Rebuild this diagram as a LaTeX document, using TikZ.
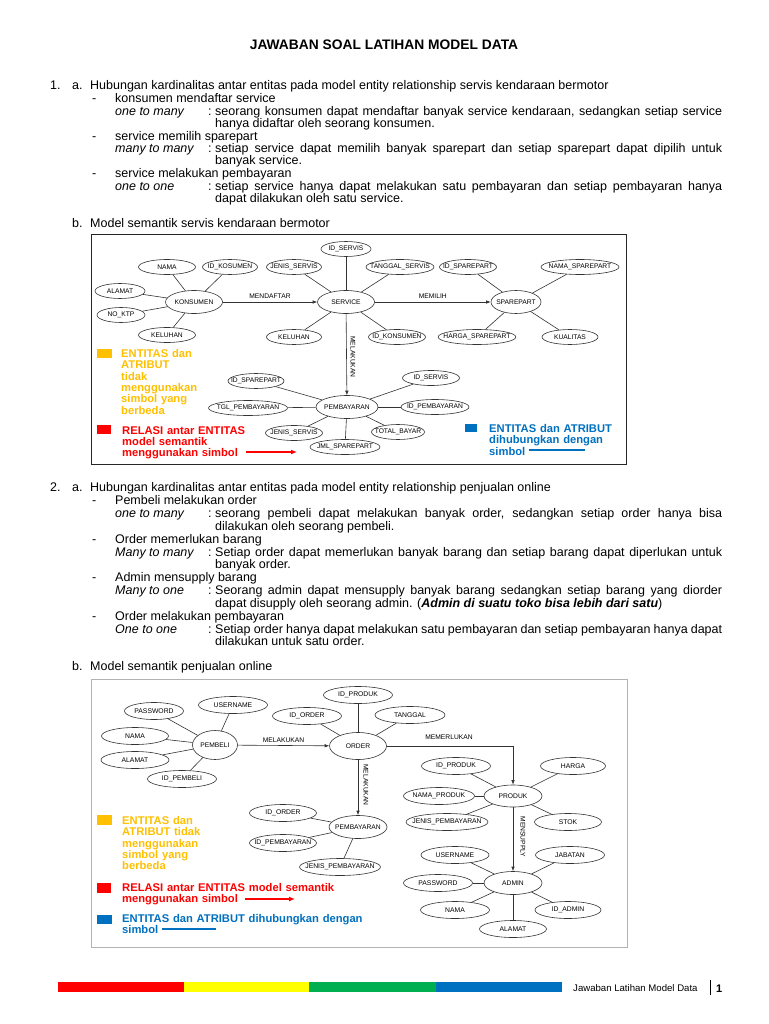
\documentclass[tikz,border=0pt]{standalone}
\usepackage{fontspec}
\setmainfont{Liberation Sans}
\usetikzlibrary{shapes.geometric,arrows.meta}

\definecolor{jingga}{HTML}{FFC000}
\definecolor{merah}{HTML}{FF0000}
\definecolor{biru}{HTML}{0070C0}
\definecolor{hijau}{HTML}{00B050}
\definecolor{kuning}{HTML}{FFFF00}
\definecolor{garis}{HTML}{333333}

\tikzset{
  isi/.style={anchor=base west, inner sep=0pt, font=\fontsize{12.5}{12.5}\selectfont},
  atr/.style={draw=garis, ellipse, inner xsep=-6pt, inner ysep=0pt, minimum height=15,
    line width=0.6pt, font=\fontsize{6.7}{7}\selectfont},
  atrb/.style={atr, minimum height=17, font=\fontsize{6.8}{7}\selectfont},
  ent/.style={atr, minimum height=23},
  relasi/.style={inner sep=1pt, font=\fontsize{6.7}{7}\selectfont},
  hub/.style={draw=garis, line width=0.6pt},
  panah/.style={hub, -{Latex[length=4.5pt,width=3.5pt]}},
  ket/.style={anchor=north west, inner sep=0pt, text width=300pt, align=left,
    font=\fontsize{11.2}{11.4}\selectfont\bfseries},
}

\begin{document}
\begin{tikzpicture}[x=1pt, y=-1pt]
  \useasboundingbox[fill=white] (0,0) rectangle (768,1024);

  % Judul
  \node[anchor=base, inner sep=0pt, font=\fontsize{13.8}{14}\selectfont\bfseries] (judul) at (384,50) {JAWABAN SOAL LATIHAN MODEL DATA};

  % Soal 1 a
  \node[isi] (n1) at (50,90) {1.};
  \node[isi] (n1a) at (72,90) {a.};
  \node[isi] (t1a) at (90,90) {Hubungan kardinalitas antar entitas pada model entity relationship servis kendaraan bermotor};
  \node[isi] (d1) at (92,103) {-};
  \node[isi] (r1) at (115,103) {konsumen mendaftar service};
  \node[isi] (k1) at (115,116) {\itshape one to many};
  \node[isi] (c1) at (208,116) {\makebox[7pt][l]{:}\makebox[507pt][s]{seorang konsumen dapat mendaftar banyak service kendaraan, sedangkan setiap service}};
  \node[isi] (c1b) at (215,128) {hanya didaftar oleh seorang konsumen.};
  \node[isi] (d2) at (92,141) {-};
  \node[isi] (r2) at (115,141) {service memilih sparepart};
  \node[isi] (k2) at (115,153) {\itshape many to many};
  \node[isi] (c2) at (208,153) {\makebox[7pt][l]{:}\makebox[507pt][s]{setiap service dapat memilih banyak sparepart dan setiap sparepart dapat dipilih untuk}};
  \node[isi] (c2b) at (215,165) {banyak service.};
  \node[isi] (d3) at (92,178) {-};
  \node[isi] (r3) at (115,178) {service melakukan pembayaran};
  \node[isi] (k3) at (115,191) {\itshape one to one};
  \node[isi] (c3) at (208,191) {\makebox[7pt][l]{:}\makebox[507pt][s]{setiap service hanya dapat melakukan satu pembayaran dan setiap pembayaran hanya}};
  \node[isi] (c3b) at (215,203) {dapat dilakukan oleh satu service.};
  \node[isi] (n1b) at (72,228) {b.};
  \node[isi] (t1b) at (90,228) {Model semantik servis kendaraan bermotor};

  % Model semantik 1
  \draw[black!85, line width=0.8pt] (91,234) rectangle (626,464);

  \node[ent, minimum width=57] (konsumen) at (194,302) {KONSUMEN};
  \node[ent, minimum width=57] (service) at (346,302) {SERVICE};
  \node[ent, minimum width=50] (sparepart) at (516,302) {SPAREPART};
  \node[ent, minimum width=62] (bayar1) at (347,407) {PEMBAYARAN};

  \node[atr, minimum width=57] (k1nama) at (167,267) {NAMA};
  \node[atr, minimum width=55] (k1id) at (230,267) {ID\_KOSUMEN};
  \node[atr, minimum width=50] (k1alamat) at (120,291) {ALAMAT};
  \node[atr, minimum width=48] (k1ktp) at (121,315) {NO\_KTP};
  \node[atr, minimum width=57] (k1keluhan) at (167,335) {KELUHAN};

  \node[atr, minimum width=50] (s1id) at (346,249) {ID\_SERVIS};
  \node[atr, minimum width=55] (s1jenis) at (294,267) {JENIS\_SERVIS};
  \node[atr, minimum width=68] (s1tgl) at (400,267) {TANGGAL\_SERVIS};
  \node[atr, minimum width=55] (s1keluhan) at (294,337) {KELUHAN};
  \node[atr, minimum width=57] (s1idk) at (397,337) {ID\_KONSUMEN};

  \node[atr, minimum width=57] (p1id) at (468,267) {ID\_SPAREPART};
  \node[atr, minimum width=78] (p1nama) at (580,267) {NAMA\_SPAREPART};
  \node[atr, minimum width=77] (p1harga) at (477,337) {HARGA\_SPAREPART};
  \node[atr, minimum width=56] (p1kualitas) at (570,337) {KUALITAS};

  \node[atr, minimum width=56] (b1idp) at (256,381) {ID\_SPAREPART};
  \node[atr, minimum width=79] (b1tgl) at (248,408) {TGL\_PEMBAYARAN};
  \node[atr, minimum width=57] (b1jenis) at (294,433) {JENIS\_SERVIS};
  \node[atr, minimum width=70] (b1jml) at (345,447) {JML\_SPAREPART};
  \node[atr, minimum width=57] (b1ids) at (431,378) {ID\_SERVIS};
  \node[atr, minimum width=68] (b1idb) at (435,407) {ID\_PEMBAYARAN};
  \node[atr, minimum width=53] (b1total) at (398,432) {TOTAL\_BAYAR};

  \foreach \a in {k1nama,k1id,k1alamat,k1ktp,k1keluhan}
    \draw[hub] (\a) -- (konsumen);
  \foreach \a in {s1id,s1jenis,s1tgl,s1keluhan,s1idk}
    \draw[hub] (\a) -- (service);
  \foreach \a in {p1id,p1nama,p1harga,p1kualitas}
    \draw[hub] (\a) -- (sparepart);
  \foreach \a in {b1idp,b1tgl,b1jenis,b1jml,b1ids,b1idb,b1total}
    \draw[hub] (\a) -- (bayar1);

  \draw[panah] (konsumen) -- (service) node[relasi, midway, above=2pt] (rl1) {MENDAFTAR};
  \draw[panah] (service) -- (sparepart) node[relasi, midway, above=2pt] (rl2) {MEMILIH};
  \draw[panah] (service) -- (bayar1);
  \node[relasi, rotate=-90] (rl3) at (353,357) {MELAKUKAN};

  % Keterangan 1
  \fill[jingga] (97,349) rectangle (112,358);
  \node[ket, text=jingga] (ket1a) at (121,349) {ENTITAS dan\\ATRIBUT\\tidak\\menggunakan\\simbol yang\\berbeda};
  \fill[merah] (97,425) rectangle (111,434);
  \node[ket, text=merah] (ket1b) at (122,426) {RELASI antar ENTITAS\\model semantik\\menggunakan simbol};
  \coordinate (pa1) at (246,452);
  \coordinate (pb1) at (297,452);
  \draw[merah, line width=1.3pt, -{Latex[length=6pt,width=5pt]}] (pa1) -- (pb1);
  \fill[biru] (465,424) rectangle (477,432);
  \node[ket, text=biru] (ket1c) at (489,424) {ENTITAS dan ATRIBUT\\dihubungkan dengan\\simbol};
  \coordinate (ga1) at (529,450);
  \coordinate (gb1) at (585,450);
  \draw[biru, line width=1.3pt] (ga1) -- (gb1);

  % Soal 2 a
  \node[isi] (n2) at (50,491) {2.};
  \node[isi] (n2a) at (72,491) {a.};
  \node[isi] (t2a) at (90,491) {Hubungan kardinalitas antar entitas pada model entity relationship penjualan online};
  \node[isi] (e1) at (92,504) {-};
  \node[isi] (q1) at (115,504) {Pembeli melakukan order};
  \node[isi] (m1) at (115,517) {\itshape one to many};
  \node[isi] (v1) at (208,517) {\makebox[7pt][l]{:}\makebox[507pt][s]{seorang pembeli dapat melakukan banyak order, sedangkan setiap order hanya bisa}};
  \node[isi] (v1b) at (215,530) {dilakukan oleh seorang pembeli.};
  \node[isi] (e2) at (92,543) {-};
  \node[isi] (q2) at (115,543) {Order memerlukan barang};
  \node[isi] (m2) at (115,556) {\itshape Many to many};
  \node[isi] (v2) at (208,556) {\makebox[7pt][l]{:}\makebox[507pt][s]{Setiap order dapat memerlukan banyak barang dan setiap barang dapat diperlukan untuk}};
  \node[isi] (v2b) at (215,568) {banyak order.};
  \node[isi] (e3) at (92,581) {-};
  \node[isi] (q3) at (115,581) {Admin mensupply barang};
  \node[isi] (m3) at (115,594) {\itshape Many to one};
  \node[isi] (v3) at (208,594) {\makebox[7pt][l]{:}\makebox[507pt][s]{Seorang admin dapat mensupply banyak barang sedangkan setiap barang yang diorder}};
  \node[isi] (v3b) at (215,607) {dapat disupply oleh seorang admin. (\textbf{\textit{Admin di suatu toko bisa lebih dari satu}})};
  \node[isi] (e4) at (92,620) {-};
  \node[isi] (q4) at (115,620) {Order melakukan pembayaran};
  \node[isi] (m4) at (115,633) {\itshape One to one};
  \node[isi] (v4) at (208,633) {\makebox[7pt][l]{:}\makebox[507pt][s]{Setiap order hanya dapat melakukan satu pembayaran dan setiap pembayaran hanya dapat}};
  \node[isi] (v4b) at (215,645) {dilakukan untuk satu order.};
  \node[isi] (n2b) at (72,670) {b.};
  \node[isi] (t2b) at (90,670) {Model semantik penjualan online};

  % Model semantik 2
  \draw[black!30, line width=1pt] (91,679) rectangle (627,947);

  \node[ent, minimum width=45, minimum height=29] (pembeli) at (215,745) {PEMBELI};
  \node[ent, minimum width=57, minimum height=27] (order) at (358,746) {ORDER};
  \node[ent, minimum width=58] (bayar2) at (358,827) {PEMBAYARAN};
  \node[ent, minimum width=58, minimum height=22] (produk) at (513,796) {PRODUK};
  \node[ent, minimum width=58] (admin) at (513,883) {ADMIN};

  \node[atrb, minimum width=59] (b2pass) at (154,711) {PASSWORD};
  \node[atrb, minimum width=69] (b2user) at (233,705) {USERNAME};
  \node[atrb, minimum width=67] (b2nama) at (135,736) {NAMA};
  \node[atrb, minimum width=68] (b2alamat) at (135,760) {ALAMAT};
  \node[atrb, minimum width=69] (b2id) at (182,779) {ID\_PEMBELI};

  \node[atrb, minimum width=69] (o2idp) at (358,695) {ID\_PRODUK};
  \node[atrb, minimum width=69] (o2ido) at (307,716) {ID\_ORDER};
  \node[atrb, minimum width=70] (o2tgl) at (410,715) {TANGGAL};

  \node[atrb, minimum width=67] (y2ido) at (283,813) {ID\_ORDER};
  \node[atrb, minimum width=67] (y2idb) at (283,843) {ID\_PEMBAYARAN};
  \node[atrb, minimum width=80] (y2jenis) at (340,867) {JENIS\_PEMBAYARAN};

  \node[atrb, minimum width=69] (r2idp) at (456,766) {ID\_PRODUK};
  \node[atrb, minimum width=65] (r2harga) at (573,766) {HARGA};
  \node[atrb, minimum width=71] (r2nama) at (439,796) {NAMA\_PRODUK};
  \node[atrb, minimum width=82] (r2jenis) at (447,822) {JENIS\_PEMBAYARAN};
  \node[atrb, minimum width=67] (r2stok) at (568,822) {STOK};

  \node[atrb, minimum width=68] (a2user) at (455,855) {USERNAME};
  \node[atrb, minimum width=69] (a2jab) at (570,855) {JABATAN};
  \node[atrb, minimum width=69] (a2pass) at (438,883) {PASSWORD};
  \node[atrb, minimum width=69] (a2nama) at (455,910) {NAMA};
  \node[atrb, minimum width=66] (a2id) at (568,910) {ID\_ADMIN};
  \node[atrb, minimum width=67] (a2alamat) at (513,929) {ALAMAT};

  \foreach \a in {b2pass,b2user,b2nama,b2alamat,b2id}
    \draw[hub] (\a) -- (pembeli);
  \foreach \a in {o2idp,o2ido,o2tgl}
    \draw[hub] (\a) -- (order);
  \foreach \a in {y2ido,y2idb,y2jenis}
    \draw[hub] (\a) -- (bayar2);
  \foreach \a in {r2idp,r2harga,r2nama,r2jenis,r2stok}
    \draw[hub] (\a) -- (produk);
  \foreach \a in {a2user,a2jab,a2pass,a2nama,a2id,a2alamat}
    \draw[hub] (\a) -- (admin);

  \draw[panah] (pembeli) -- (order) node[relasi, midway, above=2pt] (rl4) {MELAKUKAN};
  \draw[panah] (order) -- (bayar2);
  \draw[panah] (order) -| (produk);
  \draw[panah] (produk) -- (admin);
  \node[relasi, rotate=-90] (rl5) at (366,785) {MELAKUKAN};
  \node[relasi] (rl6) at (449,737) {MEMERLUKAN};
  \node[relasi, rotate=-90] (rl7) at (523,837) {MENSUPPLY};

  % Keterangan 2
  \fill[jingga] (97,815) rectangle (112,825);
  \node[ket, text=jingga] (ket2a) at (122,816) {ENTITAS dan\\ATRIBUT tidak\\menggunakan\\simbol yang\\berbeda};
  \fill[merah] (97,883) rectangle (111,893);
  \node[ket, text=merah] (ket2b) at (122,883) {RELASI antar ENTITAS model semantik\\menggunakan simbol};
  \coordinate (pa2) at (245,899);
  \coordinate (pb2) at (295,899);
  \draw[merah, line width=1.3pt, -{Latex[length=6pt,width=5pt]}] (pa2) -- (pb2);
  \fill[biru] (97,915) rectangle (112,924);
  \node[ket, text=biru] (ket2c) at (122,914) {ENTITAS dan ATRIBUT dihubungkan dengan\\simbol};
  \coordinate (ga2) at (162,929);
  \coordinate (gb2) at (216,929);
  \draw[biru, line width=1.3pt] (ga2) -- (gb2);

  % Kaki halaman
  \fill[merah] (58,982) rectangle (184,992);
  \fill[kuning] (184,982) rectangle (309,992);
  \fill[hijau] (309,982) rectangle (436,992);
  \fill[biru] (436,982) rectangle (562,992);
  \node[anchor=base west, inner sep=0pt, font=\fontsize{9.6}{10}\selectfont] (kaki) at (573,991) {Jawaban Latihan Model Data};
  \draw[black, line width=0.8pt] (710,980) -- (710,995);
  \node[anchor=base west, inner sep=0pt, font=\fontsize{11}{11}\selectfont\bfseries] (hal) at (716,992) {1};
\end{tikzpicture}
\end{document}
